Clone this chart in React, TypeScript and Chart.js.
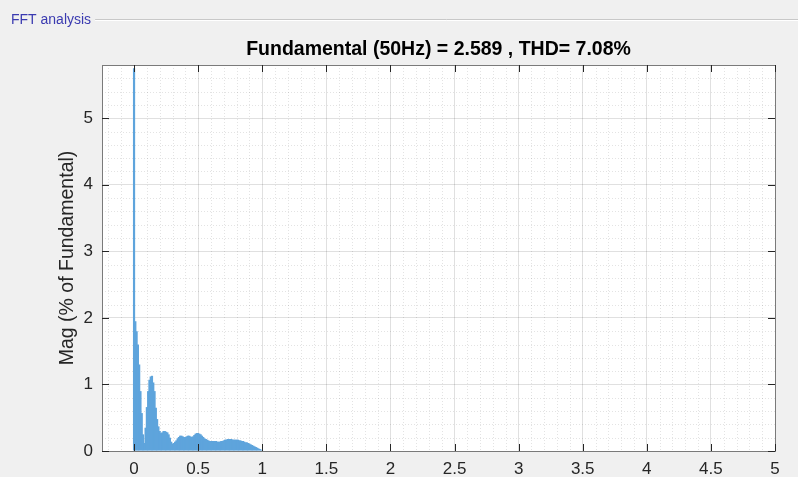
import { useEffect, useRef } from 'react';
import { Chart, registerables } from 'chart.js';

Chart.register(...registerables);

const PANEL_LABEL = 'FFT analysis';
const TITLE = 'Fundamental (50Hz) = 2.589 , THD= 7.08%';
const Y_LABEL = 'Mag (% of Fundamental)';

const X_TICKS = [0, 0.5, 1, 1.5, 2, 2.5, 3, 3.5, 4, 4.5, 5];
const Y_TICKS = [0, 1, 2, 3, 4, 5];
const X_RANGE = [-0.25, 5];
const Y_RANGE = [0, 5.8];

// spectrum bins (0 .. 1, spacing 0.01)
const BIN_STEP = 0.01;
const MAG = [
  5.75, 1.95, 1.8, 1.6, 1.3, 0.9, 0.57, 0.25, 0.12, 0.35,
  0.66, 0.9, 1.07, 1.12, 1.13, 1.03, 0.9, 0.65, 0.48, 0.37,
  0.3, 0.27, 0.28, 0.3, 0.3, 0.29, 0.28, 0.25, 0.2, 0.14,
  0.11, 0.12, 0.14, 0.16, 0.19, 0.21, 0.23, 0.23, 0.22, 0.21,
  0.21, 0.22, 0.23, 0.23, 0.22, 0.21, 0.22, 0.24, 0.26, 0.27,
  0.27, 0.26, 0.25, 0.23, 0.21, 0.19, 0.18, 0.17, 0.16, 0.15,
  0.15, 0.15, 0.15, 0.15, 0.15, 0.14, 0.14, 0.14, 0.15, 0.15,
  0.16, 0.17, 0.17, 0.18, 0.18, 0.18, 0.18, 0.17, 0.17, 0.17,
  0.17, 0.17, 0.16, 0.16, 0.15, 0.15, 0.14, 0.13, 0.13, 0.12,
  0.11, 0.1, 0.09, 0.08, 0.07, 0.06, 0.05, 0.04, 0.03, 0.02,
  0.01,
];

const FONT = '"Liberation Sans", Arial, sans-serif';
const AXIS_COLOR = '#262626';

const matlabPlugin = {
  id: 'matlabFrame',
  beforeDraw(chart: any) {
    const { ctx, chartArea: a, width, height } = chart;
    ctx.save();
    ctx.fillStyle = '#f0f0f0';
    ctx.fillRect(0, 0, width, height);
    ctx.fillStyle = '#ffffff';
    ctx.fillRect(a.left, a.top, a.right - a.left, a.bottom - a.top);
    // panel label + etched line
    ctx.font = `14px ${FONT}`;
    ctx.fillStyle = '#3a3ab0';
    ctx.textBaseline = 'middle';
    ctx.textAlign = 'left';
    ctx.fillText(PANEL_LABEL, 11, 20);
    const w = ctx.measureText(PANEL_LABEL).width;
    ctx.strokeStyle = '#c8c8c8';
    ctx.lineWidth = 1;
    ctx.beginPath();
    ctx.moveTo(11 + w + 4, 19.5);
    ctx.lineTo(width, 19.5);
    ctx.stroke();
    ctx.strokeStyle = '#ffffff';
    ctx.beginPath();
    ctx.moveTo(11 + w + 4, 20.5);
    ctx.lineTo(width, 20.5);
    ctx.stroke();
    ctx.restore();
  },
  beforeDatasetsDraw(chart: any) {
    const { ctx, chartArea: a } = chart;
    const xs = chart.scales.x;
    const ys = chart.scales.y;
    ctx.save();
    ctx.strokeStyle = 'rgba(38,38,38,0.13)';
    ctx.lineWidth = 1;
    ctx.setLineDash([1, 2]);
    for (let i = -2; i <= 50; i++) {
      if (i % 5 === 0) continue;
      const px = Math.round(xs.getPixelForValue(i / 10)) + 0.5;
      if (px <= a.left || px >= a.right) continue;
      ctx.beginPath();
      ctx.moveTo(px, a.top);
      ctx.lineTo(px, a.bottom);
      ctx.stroke();
    }
    for (let j = 1; j <= 29; j++) {
      if (j % 5 === 0) continue;
      const py = Math.round(ys.getPixelForValue(j / 5)) + 0.5;
      if (py <= a.top || py >= a.bottom) continue;
      ctx.beginPath();
      ctx.moveTo(a.left, py);
      ctx.lineTo(a.right, py);
      ctx.stroke();
    }
    ctx.restore();
  },
  afterDatasetsDraw(chart: any) {
    const { ctx, chartArea: a } = chart;
    const xs = chart.scales.x;
    const ys = chart.scales.y;
    ctx.save();
    // box
    ctx.strokeStyle = '#7a7a7a';
    ctx.lineWidth = 1;
    ctx.strokeRect(Math.round(a.left) + 0.5, Math.round(a.top) + 0.5, Math.round(a.right - a.left), Math.round(a.bottom - a.top));
    // inward ticks
    ctx.strokeStyle = AXIS_COLOR;
    const L = 7;
    X_TICKS.forEach((v) => {
      const px = Math.round(xs.getPixelForValue(v)) + 0.5;
      ctx.beginPath();
      ctx.moveTo(px, a.bottom);
      ctx.lineTo(px, a.bottom - L);
      ctx.moveTo(px, a.top);
      ctx.lineTo(px, a.top + L);
      ctx.stroke();
    });
    Y_TICKS.forEach((v) => {
      const py = Math.round(ys.getPixelForValue(v)) + 0.5;
      ctx.beginPath();
      ctx.moveTo(a.left, py);
      ctx.lineTo(a.left + L, py);
      ctx.moveTo(a.right, py);
      ctx.lineTo(a.right - L, py);
      ctx.stroke();
    });
    // title
    ctx.fillStyle = '#000000';
    ctx.font = `bold 19.5px ${FONT}`;
    ctx.textAlign = 'center';
    ctx.textBaseline = 'middle';
    ctx.fillText(TITLE, (a.left + a.right) / 2, 50);
    // y label
    ctx.fillStyle = AXIS_COLOR;
    ctx.font = `19.5px ${FONT}`;
    ctx.translate(68, (a.top + a.bottom) / 2);
    ctx.rotate(-Math.PI / 2);
    ctx.fillText(Y_LABEL, 0, 0);
    ctx.restore();
  },
};

export default function App() {
  const ref = useRef<HTMLCanvasElement | null>(null);
  useEffect(() => {
    document.body.style.margin = '0';
    const canvas = ref.current;
    if (!canvas) return;
    const data = MAG.map((m, i) => ({ x: i * BIN_STEP, y: m }));
    const chart = new Chart(canvas, {
      type: 'bar',
      data: {
        datasets: [
          {
            data: data as any,
            backgroundColor: '#5ea4dc',
            borderWidth: 0,
            barPercentage: 1.7,
            categoryPercentage: 1,
            grouped: false,
          },
        ],
      },
      options: {
        responsive: false,
        animation: false,
        devicePixelRatio: 1,
        layout: { padding: { top: 65, right: 23, left: 0, bottom: 0 } },
        plugins: {
          legend: { display: false },
          tooltip: { enabled: false },
          title: { display: false },
        },
        scales: {
          x: {
            type: 'linear',
            offset: false,
            min: X_RANGE[0],
            max: X_RANGE[1],
            afterBuildTicks: (s: any) => {
              s.ticks = X_TICKS.map((v) => ({ value: v }));
            },
            afterFit: (s: any) => {
              s.height = 26;
            },
            ticks: {
              callback: (v: any) => String(v),
              color: AXIS_COLOR,
              font: { family: FONT, size: 17 },
              padding: 8,
              maxRotation: 0,
              autoSkip: false,
            },
            grid: { color: 'rgba(38,38,38,0.14)', lineWidth: 1, drawTicks: false, offset: false },
            border: { display: false },
          },
          y: {
            type: 'linear',
            min: Y_RANGE[0],
            max: Y_RANGE[1],
            afterBuildTicks: (s: any) => {
              s.ticks = Y_TICKS.map((v) => ({ value: v }));
            },
            afterFit: (s: any) => {
              s.width = 102;
            },
            ticks: {
              callback: (v: any) => String(v),
              color: AXIS_COLOR,
              font: { family: FONT, size: 17 },
              padding: 9,
              autoSkip: false,
            },
            grid: { color: 'rgba(38,38,38,0.14)', lineWidth: 1, drawTicks: false },
            border: { display: false },
          },
        },
      },
      plugins: [matlabPlugin],
    });
    return () => chart.destroy();
  }, []);
  return (
    <div style={{ position: 'fixed', left: 0, top: 0, width: 798, height: 477 }}>
      <canvas ref={ref} width={798} height={477} />
    </div>
  );
}
